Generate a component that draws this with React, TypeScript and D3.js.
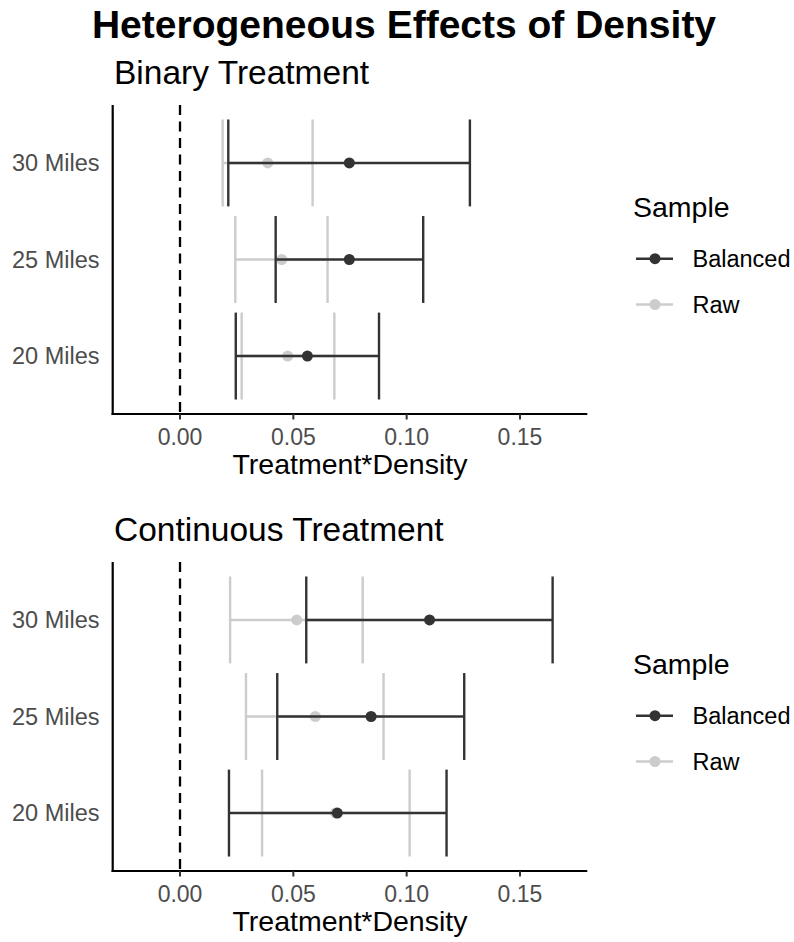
import React from "react";
import * as d3 from "d3";

const distances = ["20 Miles", "25 Miles", "30 Miles"];
const samples = ["Balanced", "Raw"];
const sampleColors = ["#333333", "#cccccc"];
const xTicks = [0, 0.05, 0.1, 0.15];

const binaryBalancedEst = [0.0562, 0.0747, 0.0747];
const binaryBalancedLo = [0.0246, 0.0422, 0.0213];
const binaryBalancedHi = [0.0878, 0.1073, 0.1279];
const binaryRawEst = [0.0475, 0.0449, 0.0387];
const binaryRawLo = [0.0272, 0.0244, 0.0188];
const binaryRawHi = [0.0681, 0.0651, 0.0585];

const contBalancedEst = [0.0694, 0.0843, 0.1101];
const contBalancedLo = [0.0216, 0.0429, 0.0557];
const contBalancedHi = [0.1176, 0.1254, 0.1644];
const contRawEst = [0.0686, 0.0597, 0.0515];
const contRawLo = [0.0362, 0.0291, 0.0221];
const contRawHi = [0.1013, 0.0898, 0.0806];

const FONT = "'Liberation Sans', Arial, Helvetica, sans-serif";

type Series = { name: string; color: string; est: number[]; lo: number[]; hi: number[] };

function buildSeries(bEst: number[], bLo: number[], bHi: number[], rEst: number[], rLo: number[], rHi: number[]): Series[] {
  return [
    { name: samples[1], color: sampleColors[1], est: rEst, lo: rLo, hi: rHi },
    { name: samples[0], color: sampleColors[0], est: bEst, lo: bLo, hi: bHi },
  ];
}

const panels = [
  { title: "Binary Treatment", series: buildSeries(binaryBalancedEst, binaryBalancedLo, binaryBalancedHi, binaryRawEst, binaryRawLo, binaryRawHi) },
  { title: "Continuous Treatment", series: buildSeries(contBalancedEst, contBalancedLo, contBalancedHi, contRawEst, contRawLo, contRawHi) },
];

const left = 112.7;
const right = 587.3;
const LW = 2.4;

function Panel({ title, series, offset }: { title: string; series: Series[]; offset: number }) {
  const top = 105 + offset;
  const bottom = 414 + offset;
  const x = d3.scaleLinear().domain([-0.0297, 0.1797]).range([left, right]);
  const y = d3.scalePoint<string>().domain(distances).range([bottom, top]).padding(0.6);
  const half = y.step() * 0.45;
  return (
    <g>
      <text x={114} y={84 + offset} fontSize={33.5} fontFamily={FONT} fill="#000">{title}</text>
      <line x1={x(0)} x2={x(0)} y1={top} y2={bottom} stroke="#000" strokeWidth={2.3} strokeDasharray="10,6.5" />
      {series.map((s) => (
        <g key={s.name}>
          {distances.map((d, i) => {
            const yy = y(d)!;
            return (
              <g key={d}>
                <line x1={x(s.lo[i])} x2={x(s.hi[i])} y1={yy} y2={yy} stroke={s.color} strokeWidth={LW} />
                <line x1={x(s.lo[i])} x2={x(s.lo[i])} y1={yy - half} y2={yy + half} stroke={s.color} strokeWidth={LW} />
                <line x1={x(s.hi[i])} x2={x(s.hi[i])} y1={yy - half} y2={yy + half} stroke={s.color} strokeWidth={LW} />
                <circle cx={x(s.est[i])} cy={yy} r={5.5} fill={s.color} />
              </g>
            );
          })}
        </g>
      ))}
      <line x1={left} x2={left} y1={top} y2={bottom + 1.1} stroke="#000" strokeWidth={2.2} />
      <line x1={left - 1.1} x2={right} y1={bottom} y2={bottom} stroke="#000" strokeWidth={2.2} />
      {xTicks.map((t) => (
        <g key={t}>
          <line x1={x(t)} x2={x(t)} y1={bottom} y2={bottom + 5.5} stroke="#333" strokeWidth={2} />
          <text x={x(t)} y={445 + offset} textAnchor="middle" fontSize={23} fontFamily={FONT} fill="#4d4d4d">
            {d3.format(".2f")(t)}
          </text>
        </g>
      ))}
      {distances.map((d) => (
        <text key={d} x={99.5} y={y(d)! + 8.3} textAnchor="end" fontSize={23.5} fontFamily={FONT} fill="#4d4d4d">{d}</text>
      ))}
      <text x={(left + right) / 2} y={474 + offset} textAnchor="middle" fontSize={28.5} fontFamily={FONT} fill="#000">Treatment*Density</text>
      <text x={633} y={217 + offset} fontSize={28.5} fontFamily={FONT} fill="#000">Sample</text>
      {samples.map((s, i) => {
        const ly = 258.7 + i * 45.8 + offset;
        return (
          <g key={s}>
            <line x1={636} x2={673} y1={ly} y2={ly} stroke={sampleColors[i]} strokeWidth={LW} />
            <circle cx={655} cy={ly} r={5.5} fill={sampleColors[i]} />
            <text x={692.5} y={ly + 8.3} fontSize={23.5} fontFamily={FONT} fill="#000">{s}</text>
          </g>
        );
      })}
    </g>
  );
}

export default function App() {
  return (
    <svg width={794} height={942} style={{ position: "absolute", left: 0, top: 0, background: "#fff" }}>
      <rect width={794} height={942} fill="#fff" />
      <text x={404} y={38} textAnchor="middle" fontSize={39} fontWeight="bold" fontFamily={FONT} fill="#000">
        Heterogeneous Effects of Density
      </text>
      {panels.map((p, i) => (
        <Panel key={p.title} title={p.title} series={p.series} offset={i * 457} />
      ))}
    </svg>
  );
}
